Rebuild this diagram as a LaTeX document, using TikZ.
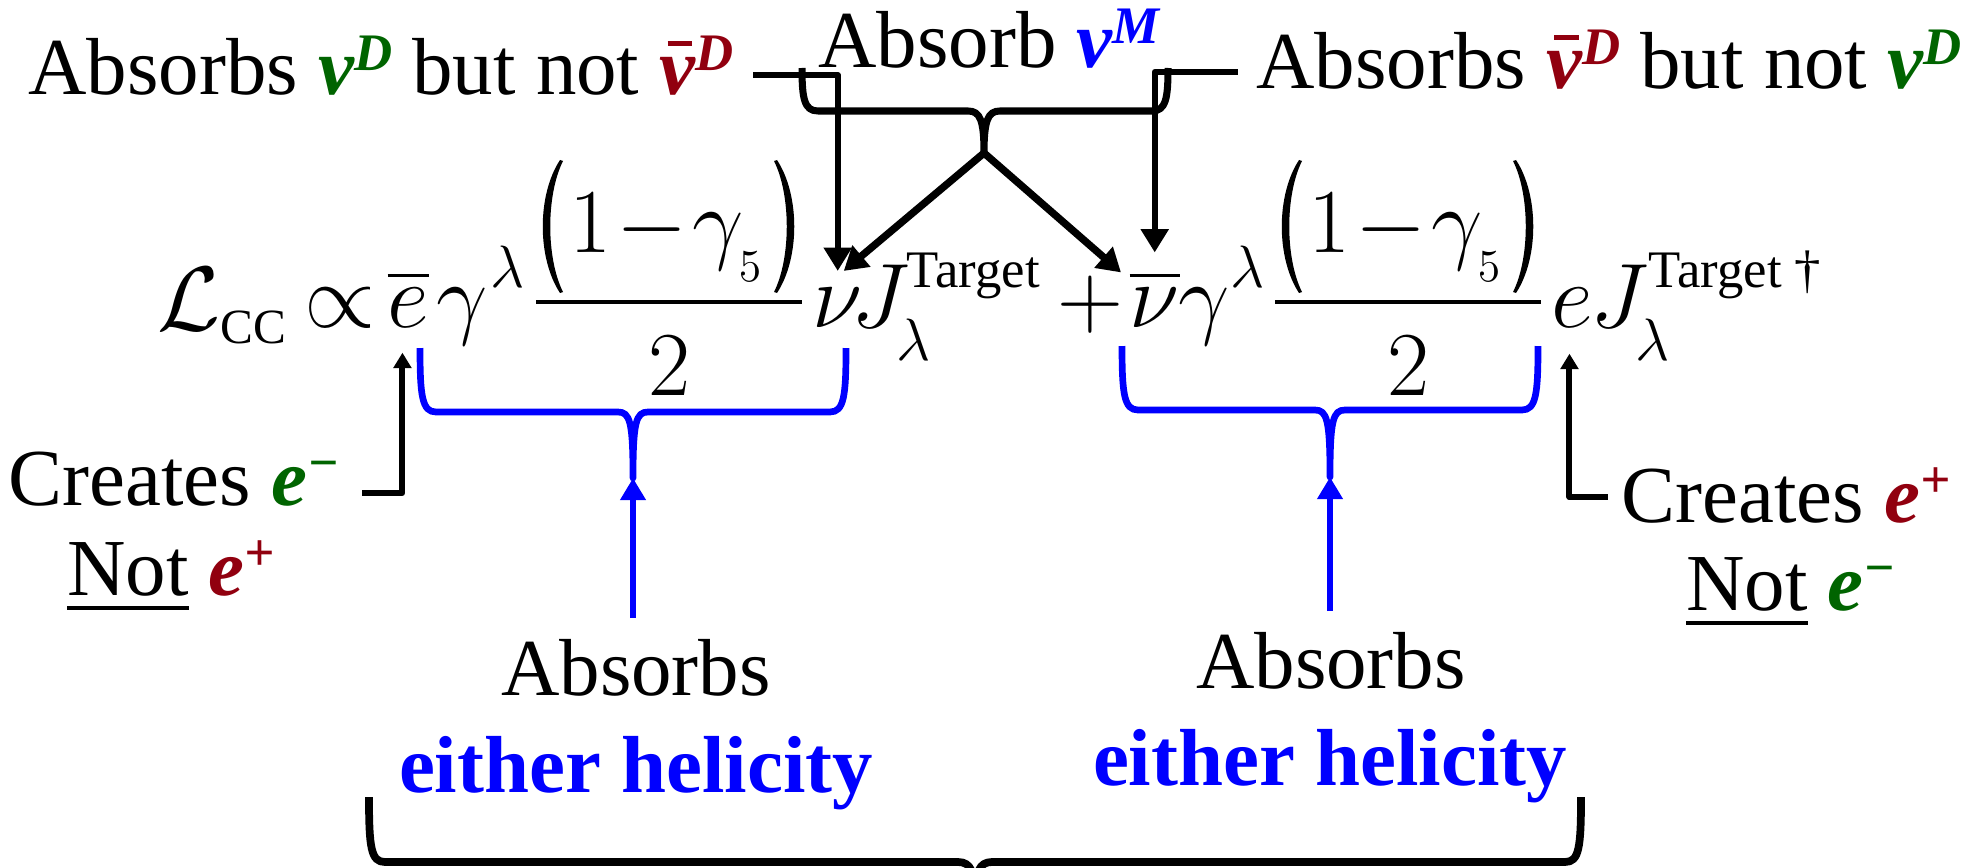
\RequirePackage{fix-cm}
\documentclass[tikz,border=0pt]{standalone}
\usepackage{amsmath}
\usepackage{fontspec}
\setmainfont{Liberation Serif}
\usetikzlibrary{arrows.meta}
\definecolor{dgreen}{RGB}{0,100,0}
\definecolor{dred}{RGB}{145,0,15}
\definecolor{hblue}{RGB}{0,0,255}
\newcommand{\Bnu}{{\bfseries\itshape ν}}
\newcommand{\Bnubar}{\leavevmode\rlap{\kern0.10em\rule[0.60em]{0.30em}{0.07em}}{\bfseries\itshape ν}}
\newcommand{\Sup}[1]{\raisebox{7pt}{\fontsize{15}{15}\selectfont\bfseries\itshape #1}}
\newcommand{\Numer}{1\mkern1mu{-}\mkern1mu\gamma_{\raisebox{-4.5pt}{$\scriptscriptstyle 5$}}}
\begin{document}
\begin{tikzpicture}[x=0.01cm,y=-0.01cm,
  lbl/.style={inner sep=0pt, anchor=base, font=\fontsize{23}{27}\selectfont},
  eqn/.style={inner sep=0pt, anchor=base west, font=\fontsize{26}{30}\selectfont},
  scr/.style={inner sep=0pt, anchor=base west, font=\fontsize{17}{20}\selectfont},
  tgt/.style={inner sep=0pt, anchor=base west, font=\fontsize{15}{18}\selectfont},
  blk/.style={line width=1.7pt, line join=round},
  blu/.style={line width=1.9pt, draw=hblue, line join=round},
  bigarr/.style={-{Triangle[width=7.6pt,length=6.6pt]}},
  smarr/.style={-{Triangle[width=5pt,length=4.4pt]}},
  bluarr/.style={-{Triangle[width=7pt,length=6.3pt]}}
]
\useasboundingbox (0,0) rectangle (1986,867);
\clip (0,0) rectangle (1986,867);

% top labels
\node[lbl] (absL) at (381,95) {Absorbs \textcolor{dgreen}{\Bnu\Sup{D}} but not \textcolor{dred}{\Bnubar\Sup{D}}};
\node[lbl] (absM) at (989,68) {Absorb \textcolor{hblue}{\Bnu\Sup{M}}};
\node[lbl] (absR) at (1609,89) {Absorbs \textcolor{dred}{\Bnubar\Sup{D}} but not \textcolor{dgreen}{\Bnu\Sup{D}}};

% equation
\node[eqn] (L) at (157,330) {$\mathcal{L}_{\mbox{\fontsize{14}{14}\selectfont CC}}$};
\node[eqn, anchor=base] (prop) at (340,327) {$\propto$};
\node[eqn] (ebar) at (387,327) {$\overline{e}$};
\node[eqn] (g1) at (436,327) {$\gamma$};
\node[scr] (l1) at (490,287) {$\lambda$};
\node[eqn] (nu) at (812,327) {$\nu$};
\node[eqn] (J1) at (851,327) {$J$};
\node[tgt] (T1) at (906,287) {Target};
\node[scr] (l2) at (896,360) {$\lambda$};
\node[eqn, anchor=base] (plus) at (1090,327) {$+$};
\node[eqn] (nubar) at (1129,327) {$\overline{\nu}$};
\node[eqn] (g2) at (1178,327) {$\gamma$};
\node[scr] (l3) at (1230,287) {$\lambda$};
\node[eqn] (e) at (1551,327) {$e$};
\node[eqn] (J2) at (1590,327) {$J$};
\node[tgt] (T2) at (1648,287) {Target \dag};
\node[scr] (l4) at (1635,360) {$\lambda$};

% the two fractions (1 - gamma_5)/2
\foreach \dx/\nm in {0/fa, 739/fb} {
  \node[eqn, anchor=base] (\nm-num) at (666+\dx,252) {$\Numer$};
  \node[eqn, anchor=base] (\nm-den) at (669+\dx,395) {$2$};
  \draw[line width=1.4pt] (536+\dx,302) -- (802+\dx,302);
  \fill (560+\dx,160) .. controls (537+\dx,195) and (537+\dx,258) .. (560+\dx,293)
        -- (563+\dx,292) .. controls (546+\dx,258) and (546+\dx,195) .. (563+\dx,161) -- cycle;
  \fill (777+\dx,160) .. controls (800+\dx,195) and (800+\dx,258) .. (777+\dx,293)
        -- (774+\dx,292) .. controls (791+\dx,258) and (791+\dx,195) .. (774+\dx,161) -- cycle;
}

% bottom labels
\node[lbl] (crL) at (174,505) {Creates \textcolor{dgreen}{{\bfseries\itshape e}\Sup{−}}};
\node[lbl] (notL) at (171,595) {\underline{Not} \textcolor{dred}{{\bfseries\itshape e}\Sup{+}}};
\node[lbl] (crR) at (1786,522) {Creates \textcolor{dred}{{\bfseries\itshape e}\Sup{+}}};
\node[lbl] (notR) at (1791,610) {\underline{Not} \textcolor{dgreen}{{\bfseries\itshape e}\Sup{−}}};
\node[lbl] (abBL) at (636,695) {Absorbs};
\node[lbl, text=hblue, font=\fontsize{23}{27}\selectfont\bfseries] (eiL) at (636,792) {either helicity};
\node[lbl] (abBR) at (1331,688) {Absorbs};
\node[lbl, text=hblue, font=\fontsize{23}{27}\selectfont\bfseries] (eiR) at (1330,785) {either helicity};

% top brace
\draw[blk, line width=2pt] (802,68) .. controls (802,98) and (804,111) .. (818,111) -- (968,111) .. controls (980,111) and (984,120) .. (984,153) .. controls (984,120) and (988,111) .. (1000,111) -- (1152,111) .. controls (1166,111) and (1168,98) .. (1168,68);
\coordinate (tipT) at (984,153);

% label arrows
\draw[blk, bigarr] ([shift={(19,-20)}]absL.base east) -| ([shift={(0,-16)}]nu.north);
\draw[blk, bigarr] ([shift={(-18,-17)}]absR.base west) -| ([shift={(0,-17)}]nubar.north);
\draw[blk, line width=2.1pt, bigarr] (tipT) -- ([shift={(6,-16)}]nu.north);
\draw[blk, line width=2.1pt, bigarr] (tipT) -- ([shift={(-8,3)}]nubar.north west);

% creates arrows
\draw[blk, smarr] ([shift={(22,-12)}]crL.base east) -| ([shift={(-6,25)}]ebar.south);
\draw[blk, smarr] ([shift={(-13,-25)}]crR.base west) -| ([shift={(-3,26)}]e.south);

% blue braces
\draw[blu] (420,348) .. controls (420,396) and (422,412) .. (436,412) -- (618,412) .. controls (630,412) and (633,422) .. (633,478) .. controls (633,422) and (636,412) .. (648,412) -- (830,412) .. controls (844,412) and (846,396) .. (846,348);
\coordinate (tipL) at (633,478);
\draw[blu] (1122,346) .. controls (1122,394) and (1124,410) .. (1138,410) -- (1315,410) .. controls (1327,410) and (1330,420) .. (1330,477) .. controls (1330,420) and (1333,410) .. (1345,410) -- (1522,410) .. controls (1536,410) and (1538,394) .. (1538,346);
\coordinate (tipR) at (1330,477);
\draw[blu, bluarr] ([shift={(-3,-20)}]abBL.north) -- (tipL);
\draw[blu, bluarr] ([shift={(-1,-20)}]abBR.north) -- (tipR);

% big bottom brace
\draw[blk, line width=2.2pt] (369,797) .. controls (369,848) and (371,862) .. (385,862) -- (958,862) .. controls (971,862) and (975,872) .. (975,900) .. controls (975,872) and (979,862) .. (992,862) -- (1565,862) .. controls (1579,862) and (1581,848) .. (1581,797);
\end{tikzpicture}
\end{document}
